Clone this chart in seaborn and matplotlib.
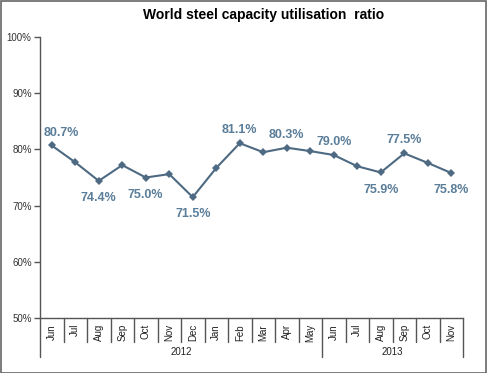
import matplotlib
matplotlib.use("Agg")
import matplotlib.pyplot as plt
import seaborn as sns
import pandas as pd
from matplotlib.patches import Rectangle

# ---- data ----
months = ["Jun", "Jul", "Aug", "Sep", "Oct", "Nov", "Dec", "Jan", "Feb", "Mar", "Apr", "May",
          "Jun", "Jul", "Aug", "Sep", "Oct", "Nov"]
years = ["2012", "2013"]
year_spans = [12, 6]
values = [80.7, 77.7, 74.4, 77.2, 75.0, 75.6, 71.5, 76.7, 81.1, 79.5, 80.3, 79.7,
          79.0, 77.0, 75.9, 79.3, 77.6, 75.8]
point_labels = ["80.7%", "", "74.4%", "", "75.0%", "", "71.5%", "", "81.1%", "", "80.3%", "",
                "79.0%", "", "75.9%", "77.5%", "", "75.8%"]
label_side = ["above", "", "below", "", "below", "", "below", "", "above", "", "above", "",
              "above", "", "below", "above", "", "below"]
yticks = [50, 60, 70, 80, 90, 100]
title = "World steel capacity utilisation  ratio"

sns.set_style("white")
plt.rcParams["font.family"] = ["Liberation Sans", "DejaVu Sans"]

W, H = 490, 373
fig = plt.figure(figsize=(W / 100, H / 100), dpi=100)
L, R, T, B = 40, 463, 37, 318
ax = fig.add_axes([L / W, (H - B) / H, (R - L) / W, (B - T) / H])

df = pd.DataFrame({"x": range(len(values)), "y": values})
line_color = "#4d6a82"
sns.lineplot(data=df, x="x", y="y", ax=ax, color=line_color, lw=1.5,
             marker="D", markersize=4, markeredgewidth=0)

ax.set_xlim(-0.5, len(values) - 0.5)
ax.set_ylim(50, 100)
ax.set_yticks(yticks)
ax.set_yticklabels([f"{t}%" for t in yticks], fontsize=7, color="#333333")
ax.tick_params(axis="y", direction="out", length=4, width=1, color="#555555", pad=2, left=True)
ax.set_xticks([])
ax.set_xlabel("")
ax.set_ylabel("")
for s in ["top", "right"]:
    ax.spines[s].set_visible(False)
for s in ["left", "bottom"]:
    ax.spines[s].set_color("#555555")
    ax.spines[s].set_linewidth(1)

label_color = "#5a7d99"
for i, (v, lab, side) in enumerate(zip(values, point_labels, label_side)):
    if not lab:
        continue
    dx = 7 if i == 0 else 0
    if side == "above":
        ax.annotate(lab, (i, v), xytext=(dx, 5), textcoords="offset points",
                    ha="center", va="bottom", fontsize=9, fontweight="bold", color=label_color)
    else:
        ax.annotate(lab, (i, v), xytext=(dx, -8), textcoords="offset points",
                    ha="center", va="top", fontsize=9, fontweight="bold", color=label_color)

# multi-level category axis
ph = B - T
tr = ax.get_xaxis_transform()
sep_color = "#555555"
n = len(months)
boundaries = [0]
acc = 0
for s in year_spans:
    acc += s
    boundaries.append(acc)
for k in range(n + 1):
    long = k in boundaries
    depth = (357 - B) if long else (342 - B)
    ax.plot([k - 0.5, k - 0.5], [0, -depth / ph], transform=tr, color=sep_color,
            lw=1, clip_on=False)
for i, m in enumerate(months):
    ax.text(i, -6 / ph, m, transform=tr, rotation=90, ha="center", va="top",
            fontsize=7, color="#222222")
for y, a, b in zip(years, boundaries[:-1], boundaries[1:]):
    ax.text((a + b - 1) / 2, -(352 - B) / ph, y, transform=tr, ha="center", va="center",
            fontsize=7, color="#222222")

fig.text(264 / W, 1 - 15 / H, title, ha="center", va="center", fontsize=10,
         fontweight="bold", color="black")

fig.patches.append(Rectangle((0.5 / W, 0.5 / H), (W - 5) / W, (H - 1.5) / H,
                             transform=fig.transFigure, fill=False,
                             edgecolor="#666666", lw=1.2))

fig.savefig("out.png", dpi=100)
